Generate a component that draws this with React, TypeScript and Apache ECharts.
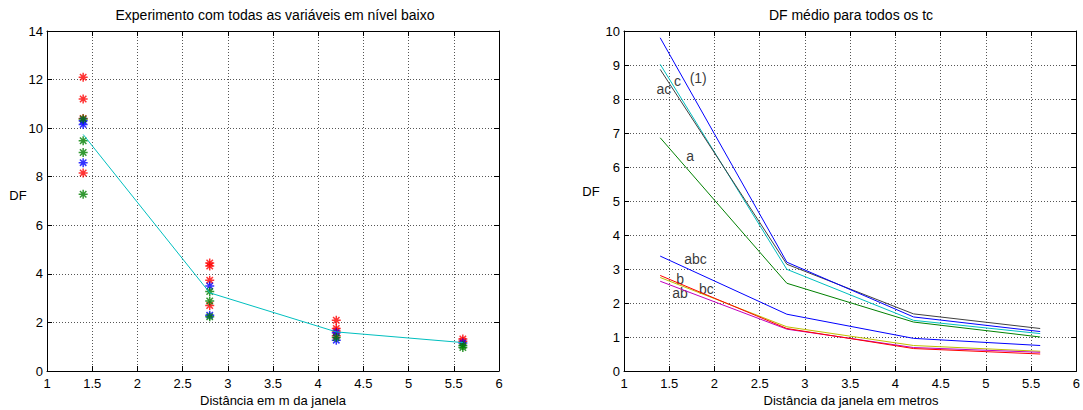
import React, { useEffect, useRef } from 'react';
import * as echarts from 'echarts';

// Left chart: individual runs (x, DF)
const redPts: [number, number][] = [
  [1.4, 12.1], [1.4, 11.2], [1.4, 10.4], [1.4, 8.15],
  [2.8, 4.45], [2.8, 4.32], [2.8, 3.74], [2.8, 2.7],
  [4.2, 2.09], [4.2, 1.75], [4.2, 1.65], [4.2, 1.45],
  [5.6, 1.32], [5.6, 1.22],
];
const bluePts: [number, number][] = [
  [1.4, 10.3], [1.4, 10.15], [1.4, 8.58],
  [2.8, 3.5], [2.8, 2.3],
  [4.2, 1.58], [4.2, 1.27],
  [5.6, 1.15],
];
const greenPts: [number, number][] = [
  [1.4, 10.38], [1.4, 9.48], [1.4, 9.0], [1.4, 7.28],
  [2.8, 3.27], [2.8, 2.88], [2.8, 2.23],
  [4.2, 1.38],
  [5.6, 1.05], [5.6, 0.97],
];
const distances = [1.4, 2.8, 4.2, 5.6];
const meanLeft = [9.74, 3.22, 1.61, 1.17];

// Right chart: mean DF per treatment
const s1 = [9.8, 3.2, 1.59, 1.16];
const sC = [9.02, 2.99, 1.49, 1.1];
const sAC = [8.87, 3.14, 1.68, 1.25];
const sA = [6.86, 2.58, 1.44, 1.0];
const sABC = [3.38, 1.67, 0.96, 0.75];
const sB = [2.81, 1.25, 0.66, 0.5];
const sBC = [2.75, 1.3, 0.75, 0.58];
const sAB = [2.64, 1.23, 0.69, 0.55];

const lineLabels = ['(1)', 'c', 'ac', 'a', 'abc', 'b', 'bc', 'ab'];
const labelX = [1.82, 1.59, 1.44, 1.73, 1.79, 1.62, 1.91, 1.62];
const labelY = [8.63, 8.53, 8.28, 6.31, 3.29, 2.72, 2.42, 2.29];

const titleLeft = 'Experimento com todas as variáveis em nível baixo';
const titleRight = 'DF médio para todos os tc';
const xNameLeft = 'Distância em m da janela';
const xNameRight = 'Distância da janela em metros';

const FONT = 'Liberation Sans, Arial, sans-serif';

const STAR =
  'path://M-1,-6 L1,-6 L1,6 L-1,6 Z M-6,-1 L6,-1 L6,1 L-6,1 Z ' +
  'M-5,-3.6 L-3.6,-5 L5,3.6 L3.6,5 Z M3.6,-5 L5,-3.6 L-3.6,5 L-5,3.6 Z';

export default function App() {
  const ref = useRef<HTMLDivElement>(null);
  useEffect(() => {
    if (!ref.current) return;
    const chart = echarts.init(ref.current, undefined, { renderer: 'svg' });

    const grids = [
      { left: 47, right: 584, top: 31, bottom: 39 },
      { left: 624, right: 5, top: 31, bottom: 39 },
    ];
    const gridLine = { show: true, lineStyle: { color: '#555', type: [1, 2], width: 1 } };
    const mkX = (gi: number, pos: 'bottom' | 'top') => ({
      type: 'value',
      gridIndex: gi,
      position: pos,
      min: 1,
      max: 6,
      interval: 0.5,
      axisLine: { show: true, onZero: false, lineStyle: { color: '#000', width: 1 } },
      axisTick: { show: true, inside: true, length: 5, lineStyle: { color: '#000' } },
      axisLabel: { show: pos === 'bottom', color: '#000', fontSize: 13, fontFamily: FONT, margin: 6 },
      splitLine: pos === 'bottom' ? gridLine : { show: false },
    });
    const mkY = (gi: number, pos: 'left' | 'right', max: number, interval: number) => ({
      type: 'value',
      gridIndex: gi,
      position: pos,
      min: 0,
      max,
      interval,
      axisLine: { show: true, onZero: false, lineStyle: { color: '#000', width: 1 } },
      axisTick: { show: true, inside: true, length: 5, lineStyle: { color: '#000' } },
      axisLabel: { show: pos === 'left', color: '#000', fontSize: 13, fontFamily: FONT, margin: 4 },
      splitLine: pos === 'left' ? gridLine : { show: false },
    });

    const scatter = (data: [number, number][], color: string) => ({
      type: 'scatter',
      xAxisIndex: 0,
      yAxisIndex: 0,
      symbol: STAR,
      symbolSize: 9,
      itemStyle: { color },
      data,
    });
    const line = (vals: number[], color: string) => ({
      type: 'line',
      xAxisIndex: 2,
      yAxisIndex: 2,
      symbol: 'none',
      clip: false,
      lineStyle: { color, width: 1 },
      data: distances.map((x, i) => [x, vals[i]]),
    });

    const txt = (text: string, x: number, y: number, size = 13) => ({
      type: 'text',
      x,
      y,
      style: {
        text,
        fill: '#000',
        font: `${size}px ${FONT}`,
        textAlign: 'center',
        textVerticalAlign: 'middle',
      },
    });

    chart.setOption({
      animation: false,
      backgroundColor: '#fff',
      grid: grids,
      xAxis: [mkX(0, 'bottom'), mkX(0, 'top'), mkX(1, 'bottom'), mkX(1, 'top')],
      yAxis: [mkY(0, 'left', 14, 2), mkY(0, 'right', 14, 2), mkY(1, 'left', 10, 1), mkY(1, 'right', 10, 1)],
      graphic: [
        txt(titleLeft, 275, 15, 14),
        txt(titleRight, 851, 15, 14),
        txt(xNameLeft, 273, 400),
        txt(xNameRight, 851, 400),
        txt('DF', 18, 195),
        txt('DF', 591, 191),
      ],
      series: [
        scatter(redPts, '#ff0000'),
        scatter(bluePts, '#0000ff'),
        scatter(greenPts, '#008000'),
        {
          type: 'line',
          xAxisIndex: 0,
          yAxisIndex: 0,
          symbol: 'none',
          clip: false,
          lineStyle: { color: '#00bfbf', width: 1 },
          data: distances.map((x, i) => [x, meanLeft[i]]),
        },
        line(sA, '#008000'),
        line(sC, '#00bfbf'),
        line(sAC, '#404040'),
        line(s1, '#0000ff'),
        line(sABC, '#0000ff'),
        line(sBC, '#bfbf00'),
        line(sAB, '#bf00bf'),
        line(sB, '#ff0000'),
        {
          type: 'scatter',
          xAxisIndex: 2,
          yAxisIndex: 2,
          symbol: 'circle',
          symbolSize: 1,
          itemStyle: { color: 'rgba(255,255,255,0)' },
          label: {
            show: true,
            position: 'inside',
            formatter: '{b}',
            color: '#000',
            fontSize: 14,
            fontFamily: FONT,
          },
          data: lineLabels.map((n, i) => ({ name: n, value: [labelX[i], labelY[i]] })),
        },
      ],
    });
    return () => chart.dispose();
  }, []);
  return (
    <div
      ref={ref}
      style={{ position: 'absolute', left: 0, top: 0, width: 1083, height: 410, background: '#fff' }}
    />
  );
}
